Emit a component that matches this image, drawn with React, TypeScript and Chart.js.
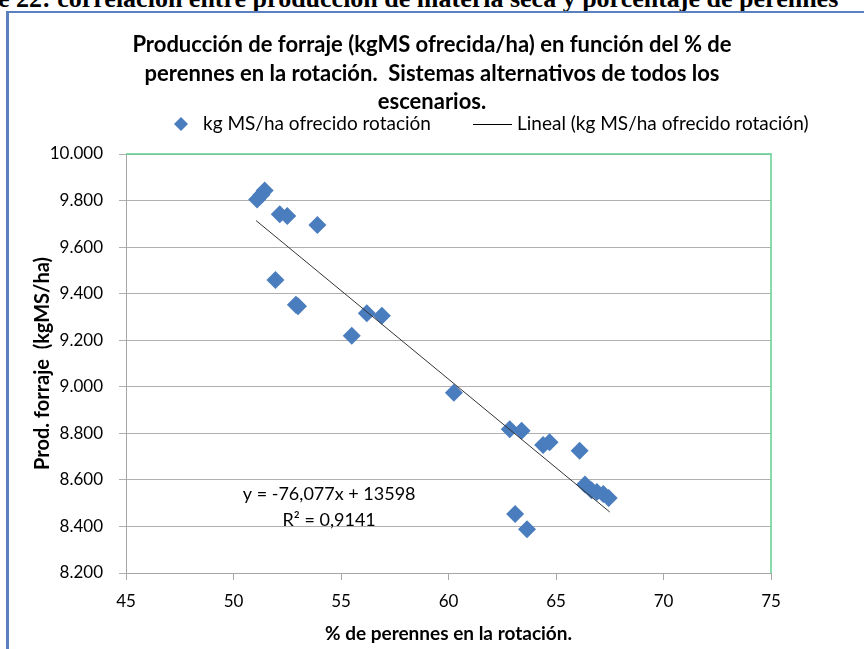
import React, { useEffect, useRef } from 'react';
import { Chart, registerables } from 'chart.js';
Chart.register(...registerables);

// ---- data ----
const perennesPct = [51.1, 51.3, 51.45, 52.15, 52.5, 53.9, 51.95, 52.9, 53.0, 56.2, 56.9, 55.5, 60.25, 62.85, 63.4, 64.4, 64.7, 66.1, 66.35, 66.65, 66.9, 67.2, 67.45, 63.1, 63.65];
const prodForraje = [9805, 9825, 9843, 9741, 9734, 9695, 9459, 9352, 9346, 9316, 9305, 9219, 8974, 8818, 8811, 8750, 8762, 8725, 8580, 8556, 8548, 8539, 8522, 8453, 8388];
const trendX = [51.05, 67.5];
const trendY = [9714, 8462];
const xTickRange = [45, 75, 5];
const yTickRange = [8200, 10000, 200];

const headingText = 'e 22: correlación entre producción de materia seca y porcentaje de perennes';
const titleLines = [
  'Producción de forraje (kgMS ofrecida/ha) en función del % de',
  'perennes en la rotación.  Sistemas alternativos de todos los',
  'escenarios.',
];
const legendLabels = ['kg MS/ha ofrecido rotación', 'Lineal (kg MS/ha ofrecido rotación)'];
const equationLines = ['y = -76,077x + 13598', 'R² = 0,9141'];
const equationPos = [54.45, 8539, 8427];
const yAxisTitle = 'Prod. forraje  (kgMS/ha)';
const xAxisTitle = '% de perennes en la rotación.';

const FONT = 'Lato, "Open Sans", sans-serif';
const BLUE = '#4A7DBD';

function fmt(v: number) {
  return Math.round(v).toString().replace(/\B(?=(\d{3})+(?!\d))/g, '.');
}

const decorPlugin = {
  id: 'decor',
  afterDraw(chart: any) {
    const { ctx, chartArea: a, scales } = chart;
    ctx.save();
    // green plot border (top & right)
    ctx.strokeStyle = '#62CF8E';
    ctx.lineWidth = 1.5;
    ctx.beginPath();
    ctx.moveTo(a.left, a.top);
    ctx.lineTo(a.right, a.top);
    ctx.lineTo(a.right, a.bottom);
    ctx.stroke();

    // title
    ctx.fillStyle = '#000';
    ctx.textAlign = 'center';
    ctx.textBaseline = 'middle';
    ctx.font = `bold 22px ${FONT}`;
    const tY = [45, 74, 102];
    titleLines.forEach((t, i) => ctx.fillText(t, 432, tY[i]));

    // legend
    ctx.font = `19px ${FONT}`;
    ctx.textAlign = 'left';
    const ly = 124;
    ctx.fillStyle = BLUE;
    ctx.beginPath();
    ctx.moveTo(181, ly - 7);
    ctx.lineTo(188, ly);
    ctx.lineTo(181, ly + 7);
    ctx.lineTo(174, ly);
    ctx.closePath();
    ctx.fill();
    ctx.fillStyle = '#000';
    ctx.fillText(legendLabels[0], 203, ly);
    ctx.strokeStyle = '#000';
    ctx.lineWidth = 1;
    ctx.beginPath();
    ctx.moveTo(473, ly + 0.5);
    ctx.lineTo(512, ly + 0.5);
    ctx.stroke();
    ctx.fillText(legendLabels[1], 517, ly);

    // equation
    ctx.textAlign = 'center';
    ctx.font = `18px ${FONT}`;
    const ex = scales.x.getPixelForValue(equationPos[0]);
    ctx.fillText(equationLines[0], ex, scales.y.getPixelForValue(equationPos[1]));
    ctx.fillText(equationLines[1], ex, scales.y.getPixelForValue(equationPos[2]));
    ctx.restore();
  },
};

export default function App() {
  const ref = useRef<HTMLCanvasElement>(null);
  useEffect(() => {
    if (!ref.current) return;
    const chart = new Chart(ref.current, {
      type: 'scatter',
      data: {
        datasets: [
          {
            type: 'line',
            label: legendLabels[1],
            data: trendX.map((x, i) => ({ x, y: trendY[i] })),
            borderColor: '#333333',
            borderWidth: 1,
            pointRadius: 0,
            showLine: true,
            fill: false,
          } as any,
          {
            label: legendLabels[0],
            data: perennesPct.map((x, i) => ({ x, y: prodForraje[i] })),
            pointStyle: 'rectRot',
            pointRadius: 9,
            backgroundColor: BLUE,
            borderColor: BLUE,
            borderWidth: 0,
          },
        ],
      },
      options: {
        responsive: false,
        animation: false,
        layout: { padding: { top: 154, right: 93, left: 0, bottom: 0 } },
        plugins: { legend: { display: false }, title: { display: false }, tooltip: { enabled: false } },
        scales: {
          x: {
            type: 'linear',
            min: xTickRange[0],
            max: xTickRange[1],
            afterFit: (s: any) => { s.height = 76; },
            ticks: { stepSize: xTickRange[2], color: '#000', font: { family: FONT, size: 17 }, padding: 11 },
            grid: { drawOnChartArea: false, drawTicks: true, tickLength: 7, color: '#A6A6A6' },
            border: { color: '#A6A6A6' },
            title: {
              display: true,
              text: xAxisTitle,
              color: '#000',
              font: { family: FONT, size: 19, weight: 'bold' },
              padding: { top: 0, bottom: 4 },
            },
          },
          y: {
            type: 'linear',
            min: yTickRange[0],
            max: yTickRange[1],
            afterFit: (s: any) => { s.width = 126; },
            ticks: { stepSize: yTickRange[2], color: '#000', font: { family: FONT, size: 17 }, padding: 16, callback: (v: any) => fmt(Number(v)) },
            grid: { color: '#AFAFAF', tickLength: 7 },
            border: { color: '#A6A6A6' },
            title: {
              display: true,
              text: yAxisTitle,
              color: '#000',
              font: { family: FONT, size: 20, weight: 'bold' },
              padding: { top: 31, bottom: 0 },
            },
          },
        },
      },
      plugins: [decorPlugin],
    });
    return () => chart.destroy();
  }, []);

  return (
    <div style={{ position: 'fixed', left: 0, top: 0, width: 864, height: 649, overflow: 'hidden', background: '#fff' }}>
      <div
        style={{
          position: 'absolute',
          left: -2,
          top: -14,
          whiteSpace: 'nowrap',
          font: 'bold 26px "Liberation Serif", serif',
          lineHeight: '26px',
          color: '#000',
        }}
      >
        {headingText}
      </div>
      <div
        style={{
          position: 'absolute',
          left: 6,
          top: 11,
          width: 900,
          height: 700,
          borderTop: '2px solid #5A80BE',
          borderLeft: '3px solid #5A80BE',
          boxSizing: 'border-box',
        }}
      />
      <canvas ref={ref} width={864} height={649} style={{ position: 'absolute', left: 0, top: 0 }} />
    </div>
  );
}
